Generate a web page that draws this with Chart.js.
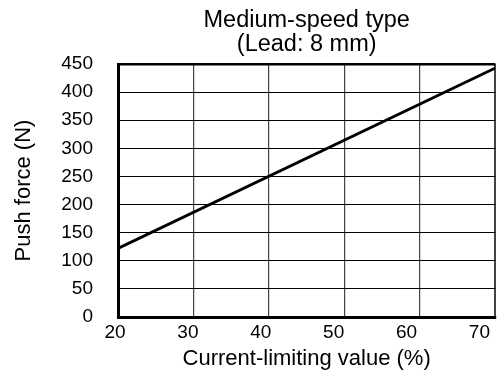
<!DOCTYPE html>
<html><head><meta charset="utf-8">
<script src="https://cdn.jsdelivr.net/npm/chart.js@4/dist/chart.umd.min.js"></script>
<style>html,body{margin:0;padding:0;background:#fff}#wrap{width:497px;height:375px;position:relative}</style>
</head><body><div id="wrap"><canvas id="c"></canvas></div>
<script>
const titleLines = ['Medium-speed type', '(Lead: 8 mm)'];
const xTitle = 'Current-limiting value (%)';
const yTitle = 'Push force (N)';
const currentLimit = [20, 70];
const pushForce = [122, 443];
const xTickValues = [20, 30, 40, 50, 60, 70];
const yTickValues = [0, 50, 100, 150, 200, 250, 300, 350, 400, 450];
const X_MIN = 20, X_MAX = 70, Y_MIN = 0, Y_MAX = 450;
const LABEL_AXIS_MAX = 71.78;

const FONT = "'Liberation Sans', Arial, sans-serif";
const points = currentLimit.map((x, i) => ({x: x, y: pushForce[i]}));

new Chart(document.getElementById('c'), {
  type: 'line',
  data: {
    datasets: [{
      data: points,
      borderColor: '#000',
      borderWidth: 2.8,
      pointRadius: 0,
      fill: false,
      tension: 0
    }]
  },
  options: {
    responsive: true,
    maintainAspectRatio: false,
    devicePixelRatio: 1,
    animation: false,
    layout: {padding: {left: 0, right: 1, top: 0, bottom: 0}},
    plugins: {
      legend: {display: false},
      tooltip: {enabled: false},
      title: {
        display: true,
        text: titleLines,
        fullSize: false,
        color: '#000',
        font: {family: FONT, size: 23.5, weight: 'normal', lineHeight: 1.03},
        padding: {top: 8, bottom: 7.6}
      }
    },
    scales: {
      x: {
        type: 'linear', position: 'bottom', weight: 0,
        min: X_MIN, max: X_MAX,
        afterBuildTicks: s => { s.ticks = xTickValues.map(v => ({value: v})); },
        ticks: {display: false},
        grid: {
          drawTicks: false,
          color: '#444',
          lineWidth: c => (c.tick && c.tick.value === X_MAX) ? 2 : 1.2
        },
        border: {display: true, color: '#000', width: 3},
        afterFit: s => { s.height = 0; }
      },
      xl: {
        type: 'linear', position: 'bottom', weight: 1,
        min: X_MIN, max: LABEL_AXIS_MAX,
        afterBuildTicks: s => { s.ticks = xTickValues.map(v => ({value: v})); },
        ticks: {color: '#000', padding: 4, labelOffset: -3, maxRotation: 0, autoSkip: false,
                font: {family: FONT, size: 19}},
        grid: {display: false, drawTicks: false},
        border: {display: false},
        title: {display: true, text: xTitle, color: '#000',
                font: {family: FONT, size: 22}, padding: {top: 0, bottom: 3}},
        afterFit: s => { s.height = 58; }
      },
      y: {
        type: 'linear', position: 'left',
        min: Y_MIN, max: Y_MAX,
        afterBuildTicks: s => { s.ticks = yTickValues.map(v => ({value: v})); },
        ticks: {color: '#000', padding: 25, autoSkip: false, font: {family: FONT, size: 19}},
        grid: {
          drawTicks: false,
          color: '#000',
          lineWidth: c => (c.tick && c.tick.value === Y_MAX) ? 2.5 : 1
        },
        border: {display: true, color: '#000', width: 3},
        title: {display: true, text: yTitle, color: '#000',
                font: {family: FONT, size: 22}, padding: {top: 10.5, bottom: 0}},
        afterFit: s => { s.width = 118; }
      }
    }
  }
});
</script>
</body></html>
